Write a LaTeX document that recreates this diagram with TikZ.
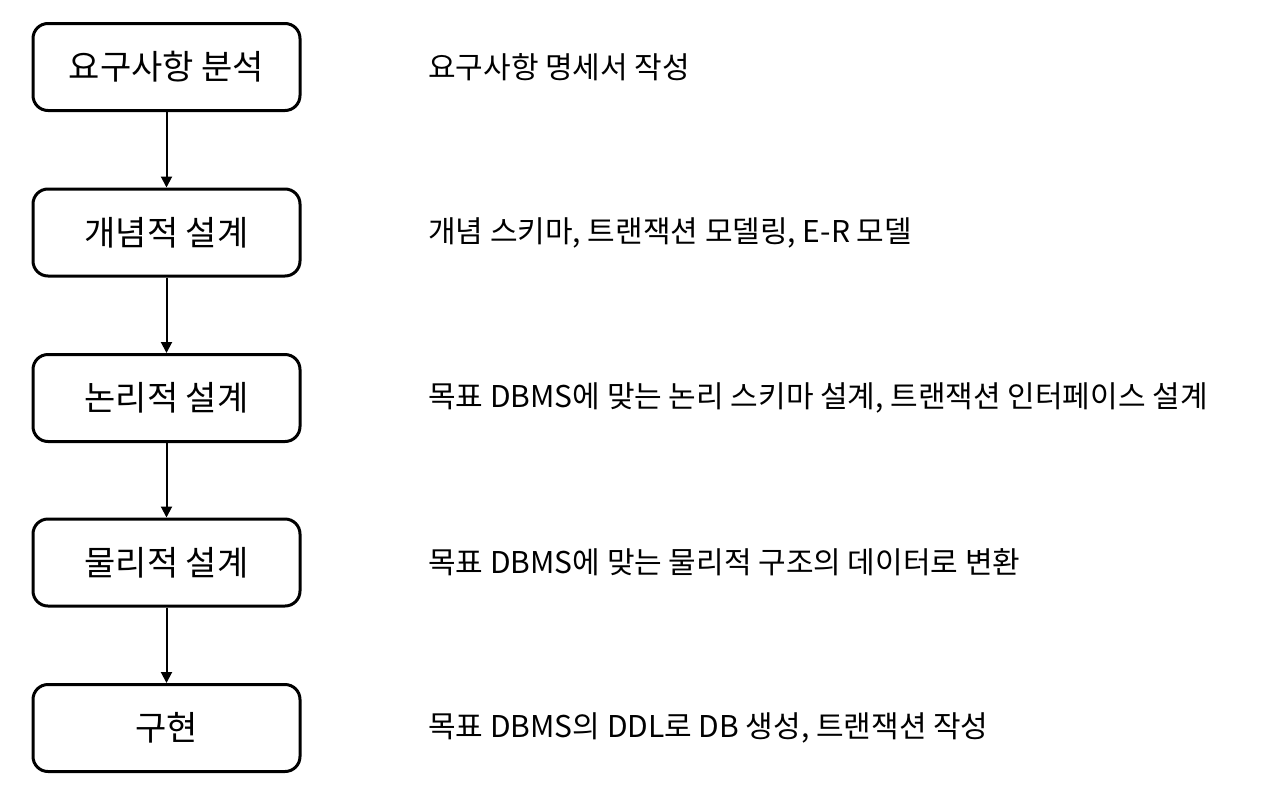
\documentclass[tikz,border=0pt]{standalone}
\usepackage{fontspec}
\setmainfont{Noto Sans CJK KR}
\usetikzlibrary{arrows.meta}
\begin{document}
\begin{tikzpicture}[x=1pt,y=-1pt,
  stepbox/.style={draw, line width=3pt, rounded corners=15pt, minimum width=267pt, minimum height=87pt, inner sep=0pt, font=\fontsize{34}{40}\selectfont},
  desc/.style={anchor=west, inner sep=0pt, font=\fontsize{30}{36}\selectfont},
  flow/.style={draw, line width=2pt, -{Triangle[length=11pt,width=11pt]}}]
\useasboundingbox (0,0) rectangle (1268,806);
\node[stepbox] (s1) at (166.5,67) {요구사항 분석};
\node[stepbox] (s2) at (166.5,232.5) {개념적 설계};
\node[stepbox] (s3) at (166.5,398) {논리적 설계};
\node[stepbox] (s4) at (166.5,562.5) {물리적 설계};
\node[stepbox] (s5) at (166.5,728) {구현};
\draw[flow] (s1) -- (s2);
\draw[flow] (s2) -- (s3);
\draw[flow] (s3) -- (s4);
\draw[flow] (s4) -- (s5);
\node[desc] (d1) at (428,67) {요구사항 명세서 작성};
\node[desc] (d2) at (428,232.5) {개념 스키마, 트랜잭션 모델링, E-R 모델};
\node[desc] (d3) at (428,398) {목표 DBMS에 맞는 논리 스키마 설계, 트랜잭션 인터페이스 설계};
\node[desc] (d4) at (428,562.5) {목표 DBMS에 맞는 물리적 구조의 데이터로 변환};
\node[desc] (d5) at (428,728) {목표 DBMS의 DDL로 DB 생성, 트랜잭션 작성};
\end{tikzpicture}
\end{document}
